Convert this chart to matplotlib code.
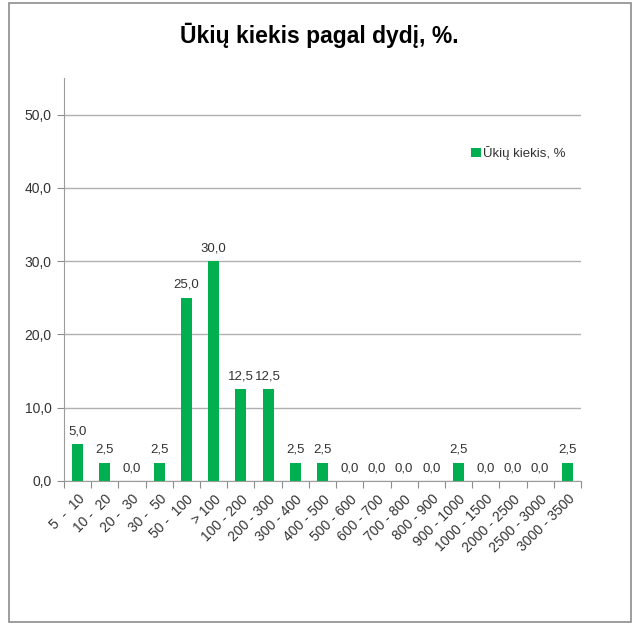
import matplotlib.pyplot as plt
import numpy as np
from matplotlib.patches import Rectangle

categories = ['5  -  10', '10 -  20', '20 -  30', '30 -  50', '50 -  100', '> 100',
              '100 - 200', '200 - 300', '300 - 400', '400 - 500', '500 - 600',
              '600 - 700', '700 - 800', '800 - 900', '900 - 1000', '1000 - 1500',
              '2000 - 2500', '2500 - 3000', '3000 - 3500']
values = [5.0, 2.5, 0.0, 2.5, 25.0, 30.0, 12.5, 12.5, 2.5, 2.5, 0.0,
          0.0, 0.0, 0.0, 2.5, 0.0, 0.0, 0.0, 2.5]
yticks = [0, 10, 20, 30, 40, 50]

plt.rcParams['font.family'] = ['Liberation Sans', 'DejaVu Sans']
green = '#00B050'
txt = '#333333'

fig = plt.figure(figsize=(6.39, 6.28), dpi=100)
fig.patches.append(Rectangle((9/639, 1-622/628), 622/639, 619/628, transform=fig.transFigure,
                             fill=False, edgecolor='#8c8c8c', lw=1.2))
ax = fig.add_axes([64/639, 1-481/628, 517/639, 403/628])

x = np.arange(len(categories))
ax.bar(x, values, width=0.4, color=green, zorder=3)
for xi, v in zip(x, values):
    ax.annotate(('%.1f' % v).replace('.', ','), (xi, v), xytext=(0, 5),
                textcoords='offset points', ha='center', va='bottom',
                fontsize=9.5, color=txt)

ax.set_xlim(-0.5, len(categories) - 0.5)
ax.set_ylim(0, 55)
ax.set_yticks(yticks)
ax.set_yticklabels([('%.1f' % t).replace('.', ',') for t in yticks], fontsize=10, color=txt)
ax.yaxis.grid(True, color='#b0b0b0', lw=1, zorder=0)
ax.set_axisbelow(True)

ax.set_xticks(np.arange(len(categories) + 1) - 0.5)
ax.set_xticklabels([])
ax.set_xticks(x, minor=True)
ax.set_xticklabels(categories, minor=True, rotation=45, ha='right',
                   rotation_mode='anchor', fontsize=10, color=txt)
ax.tick_params(axis='x', which='minor', length=0, pad=8)
ax.tick_params(axis='x', which='major', length=5, color='#8c8c8c')
ax.tick_params(axis='y', length=5, color='#8c8c8c', pad=4)

for s in ['top', 'right']:
    ax.spines[s].set_visible(False)
for s in ['left', 'bottom']:
    ax.spines[s].set_color('#9c9c9c')

ax.bar([0], [0], color=green, label='Ūkių kiekis, %')
ax.legend(loc='upper left', bbox_to_anchor=(0.765, 0.86), frameon=False, fontsize=9.5,
          handlelength=0.7, handleheight=0.7, handletextpad=0.2, labelcolor=txt)

fig.text(0.5, 1-35/628, 'Ūkių kiekis pagal dydį, %.', ha='center', va='center',
         fontsize=16.5, fontweight='bold', color='black')

fig.savefig('out.png', dpi=100)
